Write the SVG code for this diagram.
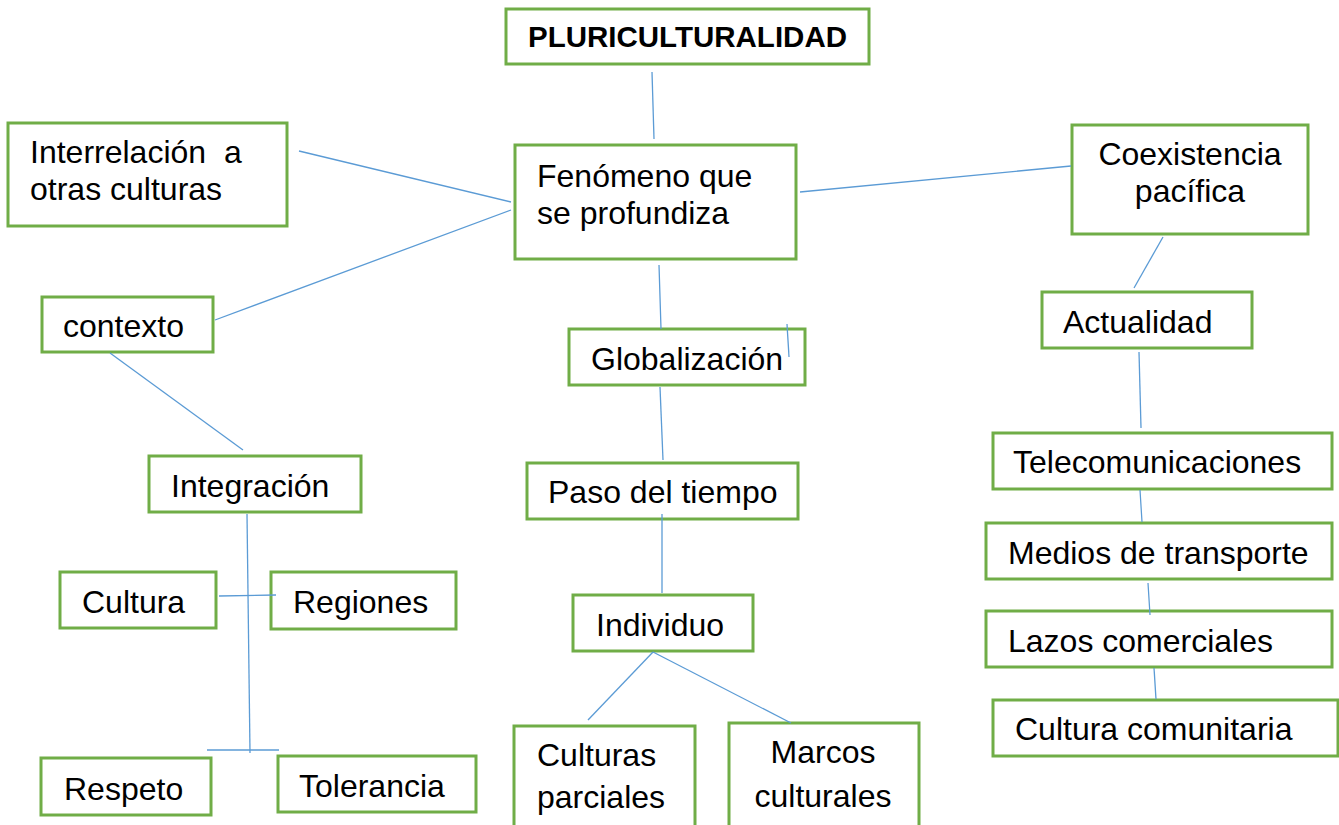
<svg xmlns="http://www.w3.org/2000/svg" width="1339" height="825" viewBox="0 0 1339 825">
<style>
.box{fill:#fff;stroke:#70AD47;stroke-width:3}
.t{font-family:"Liberation Sans",Arial,sans-serif;font-size:32px;fill:#000}
.b{font-family:"Liberation Sans",Arial,sans-serif;font-size:29.5px;font-weight:bold;fill:#000}
.c{text-anchor:middle}
#connectors line{stroke:#5B9BD5;stroke-width:1.3;fill:none}
</style>
<rect width="1339" height="825" fill="#fff"/>
<g id="pluriculturalidad"><rect class="box" x="506" y="9" width="363" height="55"/><text class="b" x="528" y="47">PLURICULTURALIDAD</text></g>
<g id="interrelacion"><rect class="box" x="8" y="123" width="279" height="103"/><text class="t" x="30" y="163" xml:space="preserve">Interrelación  a</text><text class="t" x="30" y="200">otras culturas</text></g>
<g id="fenomeno"><rect class="box" x="515" y="145" width="281" height="114"/><text class="t" x="537" y="187">Fenómeno que</text><text class="t" x="537" y="224">se profundiza</text></g>
<g id="coexistencia"><rect class="box" x="1072" y="125" width="236" height="109"/><text class="t c" x="1190" y="165">Coexistencia</text><text class="t c" x="1190" y="202">pacífica</text></g>
<g id="contexto"><rect class="box" x="42" y="297" width="171" height="55"/><text class="t" x="63" y="337">contexto</text></g>
<g id="actualidad"><rect class="box" x="1042" y="292" width="210" height="56"/><text class="t" x="1063" y="333">Actualidad</text></g>
<g id="globalizacion"><rect class="box" x="569" y="329" width="236" height="56"/><text class="t" x="591" y="370">Globalización</text></g>
<g id="integracion"><rect class="box" x="149" y="456" width="212" height="56"/><text class="t" x="171" y="497">Integración</text></g>
<g id="paso"><rect class="box" x="527" y="463" width="271" height="56"/><text class="t" x="548" y="503">Paso del tiempo</text></g>
<g id="telecomunicaciones"><rect class="box" x="993" y="433" width="339" height="56"/><text class="t" x="1013" y="473">Telecomunicaciones</text></g>
<g id="medios"><rect class="box" x="986" y="523" width="346" height="56"/><text class="t" x="1008" y="564">Medios de transporte</text></g>
<g id="cultura"><rect class="box" x="60" y="572" width="156" height="56"/><text class="t" x="82" y="613">Cultura</text></g>
<g id="regiones"><rect class="box" x="271" y="572" width="185" height="57"/><text class="t" x="293" y="613">Regiones</text></g>
<g id="individuo"><rect class="box" x="573" y="595" width="180" height="56"/><text class="t" x="596" y="636">Individuo</text></g>
<g id="lazos"><rect class="box" x="986" y="611" width="346" height="56"/><text class="t" x="1008" y="652">Lazos comerciales</text></g>
<g id="cultura-comunitaria"><rect class="box" x="993" y="700" width="345" height="56"/><text class="t" x="1015" y="740">Cultura comunitaria</text></g>
<g id="culturas-parciales"><rect class="box" x="514" y="726" width="181" height="104"/><text class="t" x="537" y="766">Culturas</text><text class="t" x="537" y="808">parciales</text></g>
<g id="marcos"><rect class="box" x="729" y="723" width="190" height="107"/><text class="t c" x="823" y="763">Marcos</text><text class="t c" x="823" y="807">culturales</text></g>
<g id="respeto"><rect class="box" x="41" y="758" width="170" height="57"/><text class="t" x="64" y="800">Respeto</text></g>
<g id="tolerancia"><rect class="box" x="278" y="756" width="198" height="56"/><text class="t" x="299" y="797">Tolerancia</text></g>
<g id="connectors">
<line x1="652" y1="72" x2="654" y2="139"/>
<line x1="299" y1="151" x2="511" y2="202"/>
<line x1="215" y1="320" x2="511" y2="210"/>
<line x1="800" y1="192" x2="1071" y2="166"/>
<line x1="1163" y1="237" x2="1134" y2="288"/>
<line x1="659" y1="265" x2="661" y2="329"/>
<line x1="787" y1="324" x2="789" y2="357"/>
<line x1="660" y1="387" x2="663" y2="460"/>
<line x1="110" y1="353" x2="243" y2="450"/>
<line x1="247" y1="514" x2="250" y2="753"/>
<line x1="219" y1="596" x2="276" y2="595"/>
<line x1="207" y1="750" x2="279" y2="750"/>
<line x1="662" y1="514" x2="662" y2="593"/>
<line x1="653" y1="652" x2="588" y2="720"/>
<line x1="653" y1="652" x2="791" y2="723"/>
<line x1="1139" y1="352" x2="1141" y2="428"/>
<line x1="1140" y1="490" x2="1142" y2="522"/>
<line x1="1148" y1="583" x2="1150" y2="615"/>
<line x1="1154" y1="668" x2="1156" y2="699"/>
</g>
</svg>
